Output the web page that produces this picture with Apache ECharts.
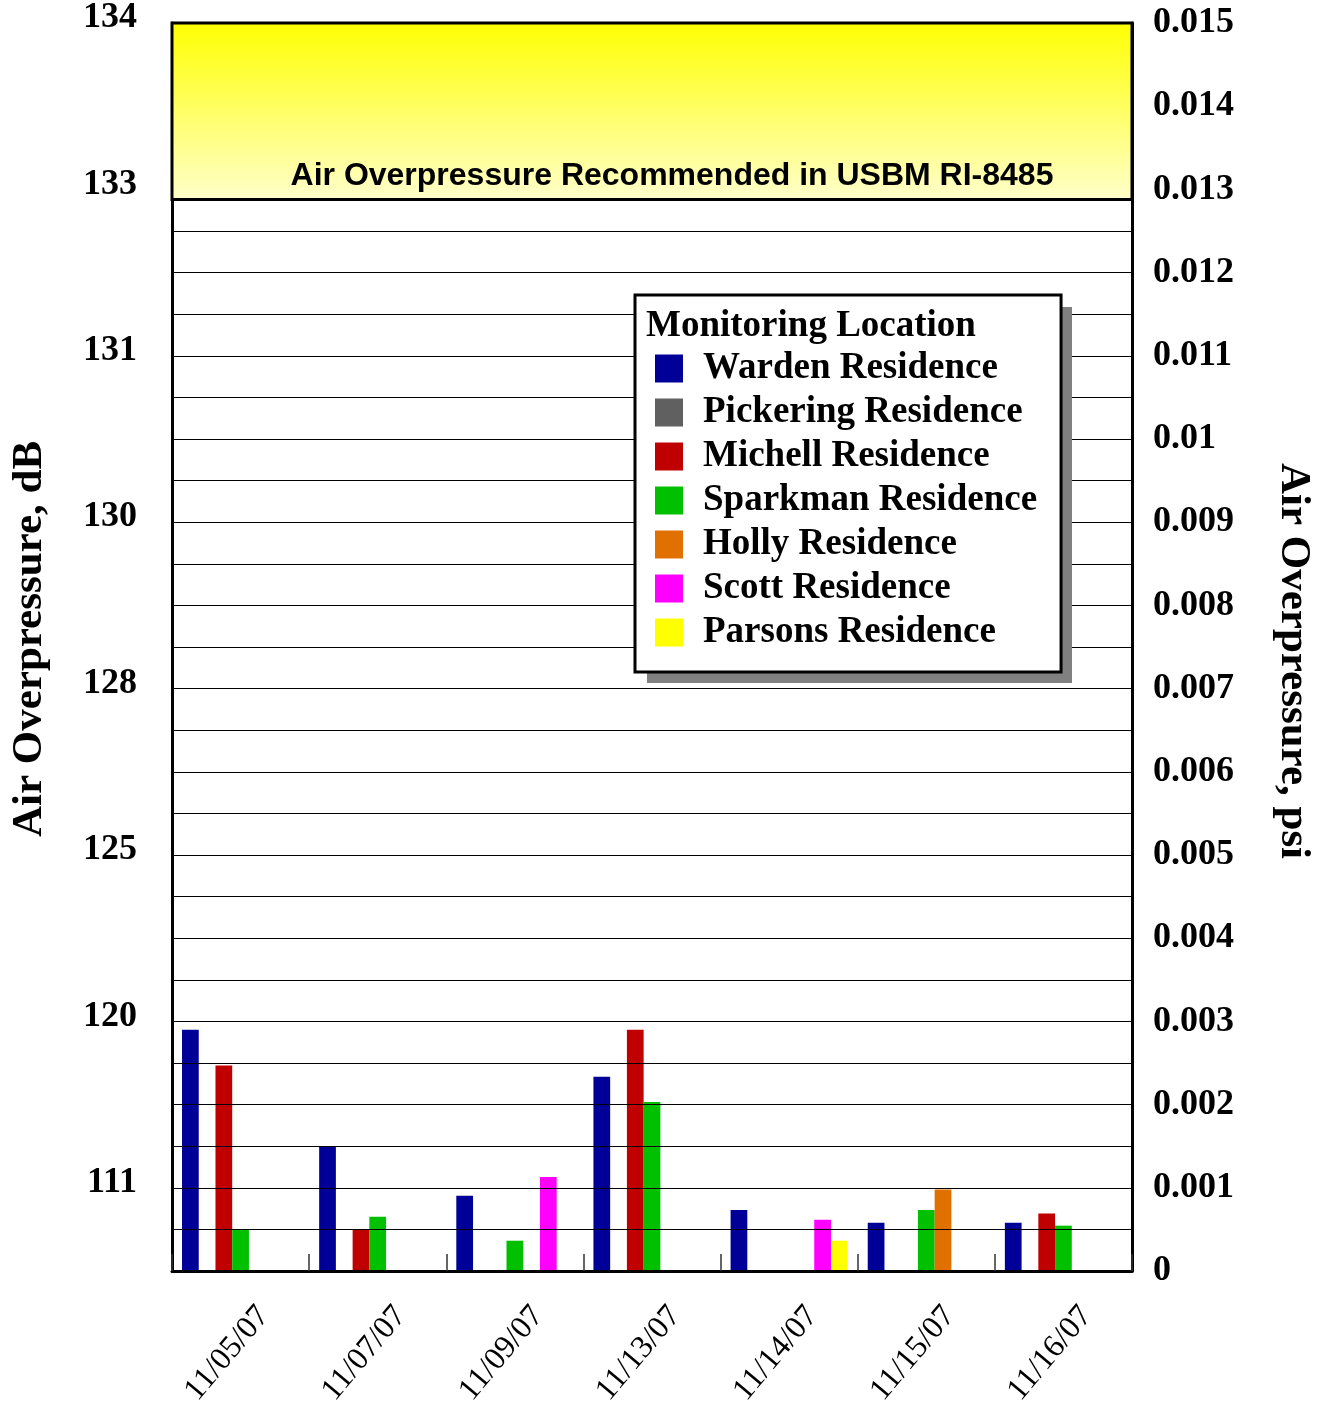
<!DOCTYPE html>
<html>
<head>
<meta charset="utf-8">
<script src="https://cdn.jsdelivr.net/npm/echarts@6/dist/echarts.min.js"></script>
<style>
html,body{margin:0;padding:0;background:#fff;}
#chart{width:1325px;height:1408px;}
</style>
</head>
<body>
<div id="chart"></div>
<script>
const categories = ['11/05/07','11/07/07','11/09/07','11/13/07','11/14/07','11/15/07','11/16/07'];
const warden    = [0.00290, 0.00149, 0.000905, 0.002335, 0.000733, 0.00058, 0.00058];
const pickering = [null, null, null, null, null, null, null];
const michell   = [0.00247, 0.000505, null, 0.00290, null, null, 0.000692];
const sparkman  = [0.000505, 0.000653, 0.000364, 0.00203, null, 0.000733, 0.000545];
const holly     = [null, null, null, null, null, 0.00098, null];
const scott     = [null, null, 0.00113, null, 0.000617, null, null];
const parsons   = [null, null, null, null, 0.000364, null, null];
const seriesNames = ['Warden Residence','Pickering Residence','Michell Residence','Sparkman Residence','Holly Residence','Scott Residence','Parsons Residence'];
const seriesColors = ['#000099','#606060','#C00000','#00C000','#E07000','#FF00FF','#FFFF00'];
const leftTickValues = [0.001, 0.003, 0.005, 0.007, 0.009, 0.011, 0.013, 0.015];
const leftTickLabels = ['111','120','125','128','130','131','133','134'];
const bandRange = [0.01288, 0.015];
const bandLabel = 'Air Overpressure Recommended in USBM RI-8485';

const seriesData = [warden, pickering, michell, sparkman, holly, scott, parsons];
const serif = '"Liberation Serif", "Times New Roman", serif';

const series = seriesNames.map((name, i) => ({
  name: name,
  type: 'bar',
  data: seriesData[i],
  yAxisIndex: 0,
  z: 2,
  barGap: '0%',
  barCategoryGap: '14.6%',
  itemStyle: { color: seriesColors[i] }
}));

series.push({
  name: 'band',
  type: 'line',
  data: [],
  yAxisIndex: 0,
  z: 20,
  silent: true,
  markArea: {
    silent: true,
    z: 20,
    itemStyle: {
      color: {
        type: 'linear', x: 0, y: 0, x2: 0, y2: 1,
        colorStops: [{ offset: 0, color: '#FFFF00' }, { offset: 1, color: '#FFFFCC' }]
      },
      borderColor: '#000',
      borderWidth: 3
    },
    label: {
      show: true,
      position: 'insideBottom',
      distance: 9,
      offset: [20, 0],
      color: '#000',
      fontFamily: '"Liberation Sans", Arial, sans-serif',
      fontWeight: 'bold',
      fontSize: 32
    },
    data: [[{ yAxis: bandRange[0], name: bandLabel }, { yAxis: bandRange[1] }]]
  }
});

const chart = echarts.init(document.getElementById('chart'));
chart.setOption({
  backgroundColor: '#fff',
  animation: false,
  grid: { left: 172, right: 193, top: 23, bottom: 137, containLabel: false, outerBoundsMode: 'none' },
  graphic: [{
    type: 'rect',
    left: 647, top: 307,
    z: 24,
    silent: true,
    shape: { width: 425, height: 376 },
    style: { fill: '#808080' }
  }],
  title: {
    text: 'Monitoring Location',
    left: 646, top: 308,
    padding: 0,
    z: 30,
    textStyle: { fontFamily: serif, fontWeight: 'bold', fontSize: 37, color: '#000' }
  },
  legend: {
    orient: 'vertical',
    left: 635, top: 295,
    z: 25,
    padding: [55, 24, 21, 20],
    itemWidth: 28, itemHeight: 28,
    itemGap: 7,
    icon: 'rect',
    backgroundColor: '#fff',
    borderColor: '#000',
    borderWidth: 3,
    borderRadius: 0,
    selectedMode: false,
    data: seriesNames,
    textStyle: { fontFamily: serif, fontWeight: 'bold', fontSize: 37, lineHeight: 37, color: '#000', padding: [0, 0, 0, 15] }
  },
  xAxis: [{
    type: 'category',
    data: categories,
    position: 'bottom',
    z: 5,
    axisLine: { show: true, lineStyle: { color: '#000', width: 3 } },
    axisTick: { show: true, inside: true, length: 17, lineStyle: { color: '#333', width: 1.5 } },
    axisLabel: {
      rotate: 50,
      margin: 20,
      verticalAlign: 'top',
      padding: [14, 0, 0, 0],
      fontFamily: serif, fontSize: 32, color: '#000'
    },
    splitLine: { show: false }
  }],
  yAxis: [{
    type: 'value',
    position: 'left',
    z: 5,
    min: 0, max: 0.015, interval: 0.0005,
    name: 'Air Overpressure, dB',
    nameLocation: 'middle',
    nameGap: 121,
    nameRotate: 90,
    nameTextStyle: { fontFamily: serif, fontWeight: 'bold', fontSize: 43, color: '#000', padding: [0, 0, 0, 16] },
    axisLine: { show: true, lineStyle: { color: '#000', width: 3 } },
    axisTick: { show: false },
    axisLabel: {
      margin: 35,
      verticalAlign: 'bottom',
      lineHeight: 10,
      fontFamily: serif, fontWeight: 'bold', fontSize: 36, color: '#000',
      formatter: function (v) {
        const idx = leftTickValues.findIndex(t => Math.abs(t - v) < 1e-7);
        return idx >= 0 ? leftTickLabels[idx] : '';
      }
    },
    splitLine: { show: true, lineStyle: { color: '#000', width: 1 } }
  }, {
    type: 'value',
    position: 'right',
    z: 5,
    min: 0, max: 0.015, interval: 0.001,
    name: 'Air Overpressure, psi',
    nameLocation: 'middle',
    nameGap: 140,
    nameRotate: -90,
    nameTextStyle: { fontFamily: serif, fontWeight: 'bold', fontSize: 43, color: '#000', padding: [0, 0, 0, 28] },
    axisLine: { show: true, lineStyle: { color: '#000', width: 3 } },
    axisTick: { show: false },
    axisLabel: { margin: 21, fontFamily: serif, fontWeight: 'bold', fontSize: 36, color: '#000' },
    splitLine: { show: false }
  }],
  series: series
});
</script>
</body>
</html>
